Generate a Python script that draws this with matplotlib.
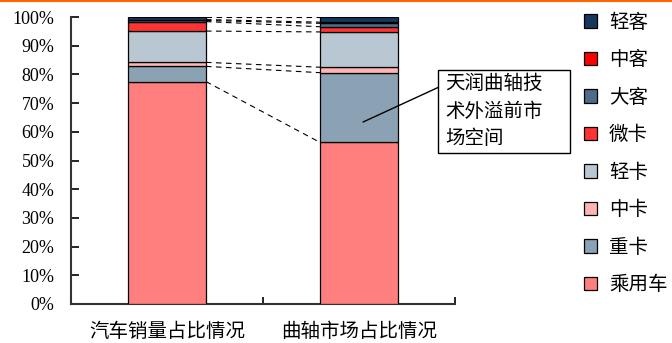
import matplotlib
matplotlib.use('Agg')
import matplotlib.pyplot as plt
from matplotlib.patches import Patch, Rectangle
from matplotlib.lines import Line2D
import numpy as np

plt.rcParams['font.family'] = ['Noto Sans CJK SC', 'DejaVu Sans']

categories = ['汽车销量占比情况', '曲轴市场占比情况']
segments = ['乘用车', '重卡', '中卡', '轻卡', '微卡', '大客', '中客', '轻客']
colors = ['#FF7F7F', '#8BA2B5', '#FFB3B3', '#B9C7D3', '#FF3333', '#4F6B8C', '#FF0000', '#17375E']
sales_share = [77.5, 5.3, 1.4, 10.9, 3.3, 0.4, 0.3, 0.9]
crank_share = [56.3, 24.3, 1.9, 12.3, 1.8, 1.2, 0.4, 1.8]
yticks = [0, 10, 20, 30, 40, 50, 60, 70, 80, 90, 100]
note = '天润曲轴技\n术外溢前市\n场空间'

fig = plt.figure(figsize=(6.72, 3.43), dpi=100)
ax = fig.add_axes([71/672, 1-304/343, 384/672, 287/343])

data = np.array([sales_share, crank_share])
x = np.arange(len(categories))
w = 0.406
bottom = np.zeros(len(categories))
for i, seg in enumerate(segments):
    ax.bar(x, data[:, i], w, bottom=bottom, color=colors[i], edgecolor='black',
           linewidth=0.9, label=seg, zorder=3)
    bottom += data[:, i]

# series connector lines
cum = np.cumsum(data, axis=1)
for j in range(len(segments)):
    ax.plot([x[0] + w/2, x[1] - w/2], [cum[0, j], cum[1, j]], color='black',
            lw=0.8, ls=(0, (5, 4)), zorder=2)

ax.set_xlim(-0.5, 1.5)
ax.set_ylim(0, 100)
ax.set_yticks(yticks)
ax.set_yticklabels([f'{v}%' for v in yticks], fontfamily='Liberation Serif', fontsize=13)
ax.set_xticks(x)
ax.set_xticklabels(categories, fontsize=14)
ax.set_xticks([-0.5, 0.5, 1.5], minor=True)
ax.tick_params(axis='x', which='major', length=0, pad=12)
ax.tick_params(axis='x', which='minor', direction='in', length=5, width=1.2)
ax.tick_params(axis='y', direction='in', length=6, width=1.2, pad=12)
for s in ['top', 'right']:
    ax.spines[s].set_visible(False)
for s in ['left', 'bottom']:
    ax.spines[s].set_linewidth(1.5)
    ax.spines[s].set_color('#333333')

# annotation box
fig.patches.append(Rectangle((438/672, 1-153/343), 132/672, 83/343, transform=fig.transFigure,
                             fc='white', ec='black', lw=1))
fig.text(445/672, 1-111/343, note, fontsize=14, va='center', ha='left', linespacing=1.4)
ax.annotate('', xy=(1.021, 63.4), xycoords='data', xytext=(438, 343-87.5),
            textcoords='figure pixels',
            arrowprops=dict(arrowstyle='-', color='black', lw=1, shrinkA=0, shrinkB=0))

handles = [Patch(facecolor=c, edgecolor='black', lw=0.9) for c in colors]
fig.legend(handles[::-1], segments[::-1], loc='upper left', bbox_to_anchor=(572/672, 1.0),
           frameon=False, fontsize=14, handlelength=0.7, handleheight=0.7,
           handletextpad=0.6, labelspacing=0.85, borderaxespad=0.2)

fig.add_artist(Line2D([0, 1], [0.998, 0.998], transform=fig.transFigure, color='#FF6600', lw=1.5))

fig.savefig('out.png', dpi=100)
